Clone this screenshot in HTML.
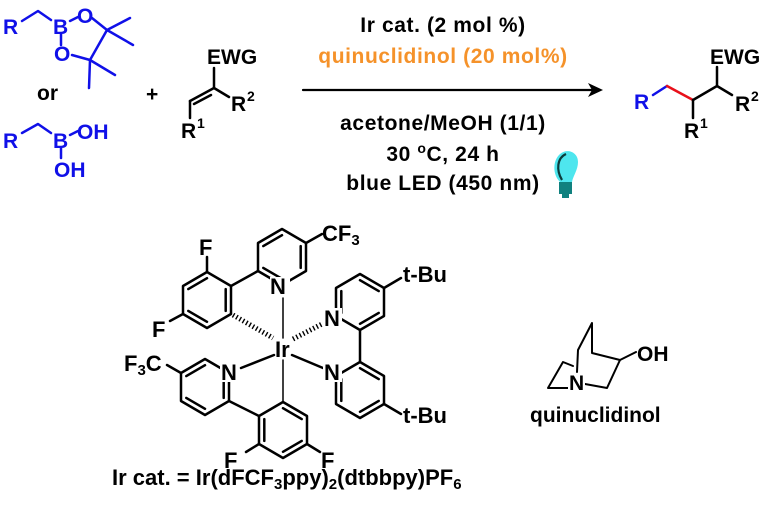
<!DOCTYPE html>
<html><head><meta charset="utf-8"><style>
html,body{margin:0;padding:0;background:#fff;}
svg{display:block;}
text{font-family:"Liberation Sans",Arial,sans-serif;font-weight:bold;}
</style></head><body>
<svg width="768" height="507" viewBox="0 0 768 507" xmlns="http://www.w3.org/2000/svg">
<g stroke-linecap="round" stroke-linejoin="round" fill="none">
<g stroke="#1010e8" stroke-width="2.5">
<polyline points="22,21 38,11 51,20"/>
<line x1="70" y1="21" x2="78" y2="17"/>
<line x1="61" y1="34" x2="61" y2="45"/>
<line x1="92" y1="18" x2="107" y2="30"/>
<line x1="72" y1="55" x2="90" y2="60"/>
<line x1="107" y1="30" x2="90" y2="60"/>
<line x1="107" y1="30" x2="130" y2="18"/>
<line x1="107" y1="30" x2="133" y2="45"/>
<line x1="90" y1="60" x2="115" y2="75"/>
<line x1="90" y1="60" x2="89" y2="88"/>
<polyline points="22,133 38,124 51,133"/>
<line x1="70" y1="135" x2="78" y2="131"/>
<line x1="61" y1="148" x2="61" y2="158"/>
</g>
<g stroke="#000" stroke-width="2.5">
<line x1="214" y1="88" x2="214" y2="68"/>
<line x1="214" y1="88" x2="229" y2="97"/>
<line x1="214" y1="88" x2="190" y2="101"/>
<line x1="211" y1="95" x2="194" y2="104"/>
<line x1="190" y1="101" x2="190" y2="118"/>
</g>
<line x1="303" y1="90" x2="592" y2="90" stroke="#000" stroke-width="2.2"/>
<line x1="653" y1="95" x2="667" y2="86" stroke="#1010e8" stroke-width="2.5"/>
<line x1="667" y1="86" x2="693" y2="100" stroke="#e8101a" stroke-width="2.5"/>
<g stroke="#000" stroke-width="2.5">
<polyline points="693,100 717,86 732,95"/>
<line x1="717" y1="86" x2="717" y2="67"/>
<line x1="693" y1="100" x2="693" y2="118"/>
</g>
<g stroke="#000" stroke-width="2.5">
<polygon points="282,229 306,243 306,271 282,285 258,271 258,243"/>
<line x1="263.3" y1="246.1" x2="282" y2="235.2"/>
<line x1="300.7" y1="246.1" x2="300.7" y2="267.9"/>
<line x1="282" y1="278.8" x2="263.3" y2="267.9"/>
<line x1="306" y1="243" x2="322" y2="234"/>
<polygon points="207,272 231,286 231,314 207,328 183,314 183,286"/>
<line x1="188.3" y1="289.1" x2="207" y2="278.2"/>
<line x1="225.7" y1="289.1" x2="225.7" y2="310.9"/>
<line x1="207" y1="321.8" x2="188.3" y2="310.9"/>
<line x1="231" y1="286" x2="258" y2="271"/>
<line x1="207" y1="272" x2="207" y2="257"/>
<line x1="183" y1="314" x2="170" y2="321"/>
<polygon points="360,274 384,288 384,316 360,330 336,316 336,288"/>
<line x1="360" y1="280.2" x2="378.7" y2="291.1"/>
<line x1="378.7" y1="312.9" x2="360" y2="323.8"/>
<line x1="341.3" y1="291.1" x2="341.3" y2="312.9"/>
<line x1="384" y1="288" x2="401" y2="278"/>
<polygon points="360,362 384,376 384,404 360,418 336,404 336,376"/>
<line x1="360" y1="368.2" x2="378.7" y2="379.1"/>
<line x1="378.7" y1="400.9" x2="360" y2="411.8"/>
<line x1="341.3" y1="400.9" x2="341.3" y2="379.1"/>
<line x1="384" y1="404" x2="401" y2="414"/>
<line x1="360" y1="330" x2="360" y2="362"/>
<polygon points="205,359 229,373 229,401 205,415 181,401 181,373"/>
<line x1="205" y1="365.2" x2="186.3" y2="376.1"/>
<line x1="223.7" y1="376.1" x2="223.7" y2="397.9"/>
<line x1="205" y1="408.8" x2="186.3" y2="397.9"/>
<line x1="181" y1="373" x2="167" y2="365"/>
<polygon points="283,402 307,416 307,444 283,458 259,444 259,416"/>
<line x1="283" y1="408.2" x2="301.7" y2="419.1"/>
<line x1="301.7" y1="440.9" x2="283" y2="451.8"/>
<line x1="264.3" y1="440.9" x2="264.3" y2="419.1"/>
<line x1="229" y1="401" x2="259" y2="416"/>
<line x1="259" y1="444" x2="246" y2="452"/>
<line x1="307" y1="444" x2="320" y2="452"/>
<line x1="283" y1="298" x2="283" y2="338" stroke-width="1.5"/>
<line x1="283" y1="360" x2="283" y2="402" stroke-width="1.5"/>
<line x1="274" y1="355" x2="241" y2="368"/>
<line x1="292" y1="355" x2="323" y2="368"/>
</g>
<line x1="233" y1="315" x2="273" y2="338" stroke="#000" stroke-width="5" stroke-dasharray="1.4 2.4" stroke-linecap="butt"/>
<line x1="293" y1="339" x2="322" y2="324" stroke="#000" stroke-width="5" stroke-dasharray="1.4 2.4" stroke-linecap="butt"/>
<g stroke="#000" stroke-width="2">
<polyline points="569,388 548,388 563,362 573,366"/>
<polyline points="577,372 578,350 592,323 592,353 620,360 607,388 585,384"/>
<line x1="620" y1="360" x2="636" y2="352"/>
</g>
</g>
<g fill="#fff">
<rect x="270" y="277" width="20" height="19"/>
<rect x="323" y="308" width="19" height="20"/>
<rect x="323" y="362" width="19" height="20"/>
<rect x="220" y="362" width="19" height="20"/>
<rect x="568" y="373" width="17" height="18"/>
</g>
<g font-size="21" fill="#1010e8">
<text x="3" y="34">R</text>
<text x="53" y="34">B</text>
<text x="77" y="23">O</text>
<text x="54" y="61">O</text>
<text x="3" y="148">R</text>
<text x="53" y="148">B</text>
<text x="77" y="139">OH</text>
<text x="54" y="177">OH</text>
<text x="634" y="109">R</text>
</g>
<g font-size="21" fill="#000">
<text x="37" y="100">or</text>
<text x="146" y="101">+</text>
<text x="207" y="64">EWG</text>
<text x="231" y="111">R</text><text x="247" y="101" font-size="14">2</text>
<text x="181" y="138">R</text><text x="197" y="128" font-size="14">1</text>
<text x="710" y="64">EWG</text>
<text x="735" y="111">R</text><text x="751" y="101" font-size="14">2</text>
<text x="684" y="138">R</text><text x="700" y="128" font-size="14">1</text>
</g>
<g font-size="21" fill="#000" text-anchor="middle" letter-spacing="0.6">
<text x="443" y="32">Ir cat. (2 mol %)</text>
<text x="443" y="63" fill="#f5922a">quinuclidinol (20 mol%)</text>
<text x="443" y="130">acetone/MeOH (1/1)</text>
<text x="443" y="161">30 <tspan font-size="14" dy="-8">o</tspan><tspan dy="8">C, 24 h</tspan></text>
<text x="443" y="190">blue LED (450 nm)</text>
</g>
<polygon points="603,90 588,83 592,90 588,97" fill="#000"/>
<g>
<path d="M560,182 C552,174 553,160 560,154 C567,148 578,152 578,162 C578,170 573,176 572,182 Z" fill="#4ee6ee"/>
<path d="M562,180 C556,170 557,158 566,154" stroke="#0b3b3b" stroke-width="2.2" fill="none"/>
<rect x="559" y="182" width="13" height="12" fill="#10817f"/>
<rect x="562" y="194" width="7" height="4" fill="#10817f"/>
</g>
<g font-size="22" fill="#000">
<text x="270" y="294">N</text>
<text x="324" y="326">N</text>
<text x="324" y="380">N</text>
<text x="221" y="380">N</text>
<text x="275" y="357">Ir</text>
<text x="322" y="241">CF<tspan font-size="15" dy="4">3</tspan></text>
<text x="199" y="255">F</text>
<text x="152" y="337">F</text>
<text x="124" y="371">F<tspan font-size="15" dy="4">3</tspan><tspan dy="-4">C</tspan></text>
<text x="403" y="282">t-Bu</text>
<text x="403" y="423">t-Bu</text>
<text x="224" y="468">F</text>
<text x="321" y="468">F</text>
<text x="569" y="390" font-size="21">N</text>
<text x="637" y="361" font-size="21">OH</text>
<text x="530" y="422" font-size="21">quinuclidinol</text>
<text x="112" y="485">Ir cat. = Ir(dFCF<tspan font-size="15" dy="4">3</tspan><tspan dy="-4">ppy)</tspan><tspan font-size="15" dy="4">2</tspan><tspan dy="-4">(dtbbpy)PF</tspan><tspan font-size="15" dy="4">6</tspan></text>
</g>
</svg>
</body></html>
